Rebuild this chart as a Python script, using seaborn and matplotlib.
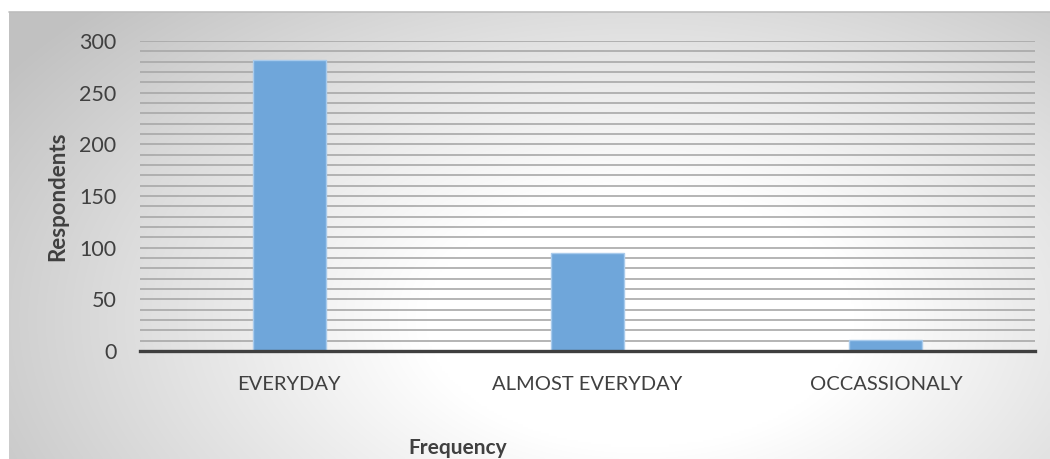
import numpy as np
import pandas as pd
import matplotlib
matplotlib.use("Agg")
import matplotlib.pyplot as plt
import seaborn as sns
from matplotlib.ticker import MultipleLocator

categories = ["EVERYDAY", "ALMOST EVERYDAY", "OCCASSIONALY"]
respondents = [282, 95, 11]
y_ticks = [0, 50, 100, 150, 200, 250, 300]

df = pd.DataFrame({"Frequency": categories, "Respondents": respondents})

sns.set_theme(style="white")
plt.rcParams["font.family"] = ["Lato", "DejaVu Sans"]

W, H = 1050, 459
fig = plt.figure(figsize=(W / 100, H / 100), dpi=100)
fig.patch.set_facecolor("white")

# gradient background of chart area
bg = fig.add_axes([9 / W, 0, (W - 9) / W, (H - 12) / H], zorder=0)
xs = np.linspace(9, W, 400)
ys = np.linspace(12, H, 200)
X, Y = np.meshgrid(xs, ys)
cx, cy, rx, ry = 640, 320, 720, 430
d = np.sqrt(((X - cx) / rx) ** 2 + ((Y - cy) / ry) ** 2)
t = np.clip((d - 0.3) / 0.75, 0, 1)
g = 1.0 - 0.24 * t
img = np.dstack([g, g, g])
bg.imshow(img, aspect="auto", extent=[0, 1, 0, 1], interpolation="bilinear")
bg.set_axis_off()
bg.plot([0, 1], [1, 1], color="#bdbdbd", lw=1.2, transform=bg.transAxes, clip_on=False)

ax = fig.add_axes([140 / W, (H - 351) / H, (1035 - 140) / W, 310 / H], zorder=2)
ax.patch.set_alpha(0)

sns.barplot(data=df, x="Frequency", y="Respondents", color="#6fa6da",
            width=0.245, edgecolor="#a9cbec", linewidth=1.0, saturation=1,
            ax=ax, zorder=3)

ax.set_xlim(-0.5, 2.5)
ax.set_ylim(0, 300)
ax.set_yticks(y_ticks)
ax.yaxis.set_minor_locator(MultipleLocator(10))
ax.grid(True, which="both", axis="y", color="#a8a8a8", linewidth=1.2, zorder=0)
ax.set_axisbelow(True)
for s in ["top", "right", "left"]:
    ax.spines[s].set_visible(False)
ax.spines["bottom"].set_color("#3f3f3f")
ax.spines["bottom"].set_linewidth(2.4)
ax.spines["bottom"].set_zorder(5)

ax.tick_params(axis="y", which="both", length=0, pad=17, labelsize=15.5, labelcolor="#404040")
ax.tick_params(axis="x", length=0, pad=18, labelsize=14.5, labelcolor="#404040")

ax.set_xlabel("")
ax.set_ylabel("")
fig.text(458 / W, 1 - 448 / H, "Frequency", fontsize=15, fontweight="bold",
         color="#404040", ha="center", va="center")
fig.text(58 / W, 1 - 196 / H, "Respondents", fontsize=16, fontweight="bold",
         color="#404040", ha="center", va="center", rotation=90)

fig.savefig("out.png", dpi=100)
